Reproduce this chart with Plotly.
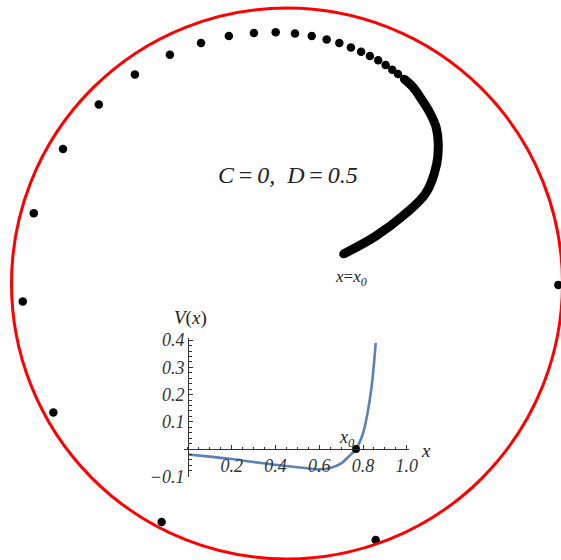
import plotly.graph_objects as go

# ---- trajectory in the unit disk ----
dots_u = [0.985, 0.322, -0.455, -0.848, -0.959, -0.919, -0.813, -0.683, -0.552, -0.425,
          -0.312, -0.211, -0.120, -0.041, 0.029, 0.090, 0.144, 0.190, 0.232, 0.269,
          0.301, 0.331, 0.358, 0.382, 0.403, 0.425]
dots_v = [-0.005, -0.931, -0.866, -0.468, -0.065, 0.255, 0.488, 0.650, 0.759, 0.830,
          0.873, 0.898, 0.909, 0.912, 0.907, 0.898, 0.886, 0.873, 0.857, 0.841,
          0.826, 0.810, 0.793, 0.776, 0.760, 0.742]

dense_u = [0.425, 0.457, 0.490, 0.519, 0.541, 0.549, 0.543, 0.504, 0.426, 0.322, 0.205]
dense_v = [0.742, 0.713, 0.666, 0.619, 0.568, 0.510, 0.432, 0.328, 0.250, 0.172, 0.107]

# ---- inset potential V(x) ----
pot_x = [0.0, 0.1, 0.2, 0.3, 0.4, 0.5, 0.6, 0.65, 0.7, 0.73, 0.768, 0.8, 0.82, 0.84, 0.858]
pot_v = [-0.02, -0.028, -0.037, -0.048, -0.058, -0.067, -0.075, -0.070, -0.053, -0.031, 0.0,
         0.058, 0.13, 0.235, 0.39]
x0_val = 0.768

xt_vals = [0.2, 0.4, 0.6, 0.8, 1.0]
xt_text = ["0.2", "0.4", "0.6", "0.8", "1.0"]
yt_vals = [-0.1, 0.1, 0.2, 0.3, 0.4]
yt_text = ["\u22120.1", "0.1", "0.2", "0.3", "0.4"]

W, H = 561, 560
SERIF = "Liberation Serif, Times New Roman, serif"
TS = "\u2009"

fig = go.Figure()

fig.add_trace(go.Scatter(x=dense_u, y=dense_v, mode="lines",
                         line=dict(color="black", width=9, shape="spline", smoothing=1.0),
                         hoverinfo="skip", showlegend=False, xaxis="x", yaxis="y"))
fig.add_trace(go.Scatter(x=dots_u + [dense_u[-1]], y=dots_v + [dense_v[-1]], mode="markers",
                         marker=dict(color="black", size=8.5), showlegend=False, xaxis="x", yaxis="y",
                         cliponaxis=False))

fig.add_trace(go.Scatter(x=pot_x, y=pot_v, mode="lines", line=dict(color="#5E81B5", width=2.6, shape="spline"),
                         showlegend=False, xaxis="x2", yaxis="y2"))
fig.add_trace(go.Scatter(x=[x0_val], y=[0], mode="markers", marker=dict(color="black", size=8),
                         showlegend=False, xaxis="x2", yaxis="y2", cliponaxis=False))

fig.add_shape(type="circle", xref="x", yref="y", x0=-1, x1=1, y0=-1, y1=1,
              line=dict(color="#ff0000", width=3))


def px(xp):
    return xp / W


def py(yp):
    return 1 - yp / H


ann = [
    dict(text=f"<i>C</i>{TS}={TS}<i>0,</i>  <i>D</i>{TS}={TS}<i>0.5</i>", x=px(287.5), y=py(175), size=24),
    dict(text="<i>x</i>=<i>x<sub>0</sub></i>", x=px(350.5), y=py(278), size=17),
    dict(text="<i>V</i>(<i>x</i>)", x=px(190), y=py(318), size=19),
    dict(text="<i>x</i>", x=px(426), y=py(450), size=19),
    dict(text="<i>x<sub>0</sub></i>", x=px(347), y=py(438), size=18),
]
for a in ann:
    fig.add_annotation(text=a["text"], x=a["x"], y=a["y"], xref="paper", yref="paper",
                       showarrow=False, font=dict(family=SERIF, size=a["size"], color="#222"),
                       xanchor="center", yanchor="middle")

fig.update_layout(
    width=W, height=H, margin=dict(l=0, r=0, t=0, b=0, pad=0, autoexpand=False),
    paper_bgcolor="white", plot_bgcolor="rgba(0,0,0,0)",
    xaxis=dict(range=[-1.0417, 0.9946], visible=False, domain=[0, 1]),
    yaxis=dict(range=[-1.0036, 1.0290], visible=False, domain=[0, 1]),
    xaxis2=dict(domain=[184 / W, 409 / W], range=[-0.018, 1.010], anchor="free", position=py(449),
                showline=True, linecolor="#333", linewidth=1, showgrid=False, zeroline=False,
                tickvals=xt_vals, ticktext=xt_text, ticks="inside", ticklen=4, tickcolor="#333",
                minor=dict(dtick=0.05, tick0=0, ticks="inside", ticklen=2.5, tickcolor="#333"),
                tickfont=dict(family=SERIF, size=18, color="#333", style="italic")),
    yaxis2=dict(domain=[py(477), py(338)], range=[-0.1029, 0.408], anchor="free", position=188 / W,
                showline=True, linecolor="#333", linewidth=1, showgrid=False, zeroline=False,
                tickvals=yt_vals, ticktext=yt_text, ticks="inside", ticklen=4, tickcolor="#333",
                minor=dict(dtick=0.02, tick0=0, ticks="inside", ticklen=2.5, tickcolor="#333"),
                tickfont=dict(family=SERIF, size=18, color="#333", style="italic")),
)

fig.write_html("out.html", config={"displayModeBar": False},
               post_script="document.body.style.margin='0';document.body.style.overflow='hidden';")
